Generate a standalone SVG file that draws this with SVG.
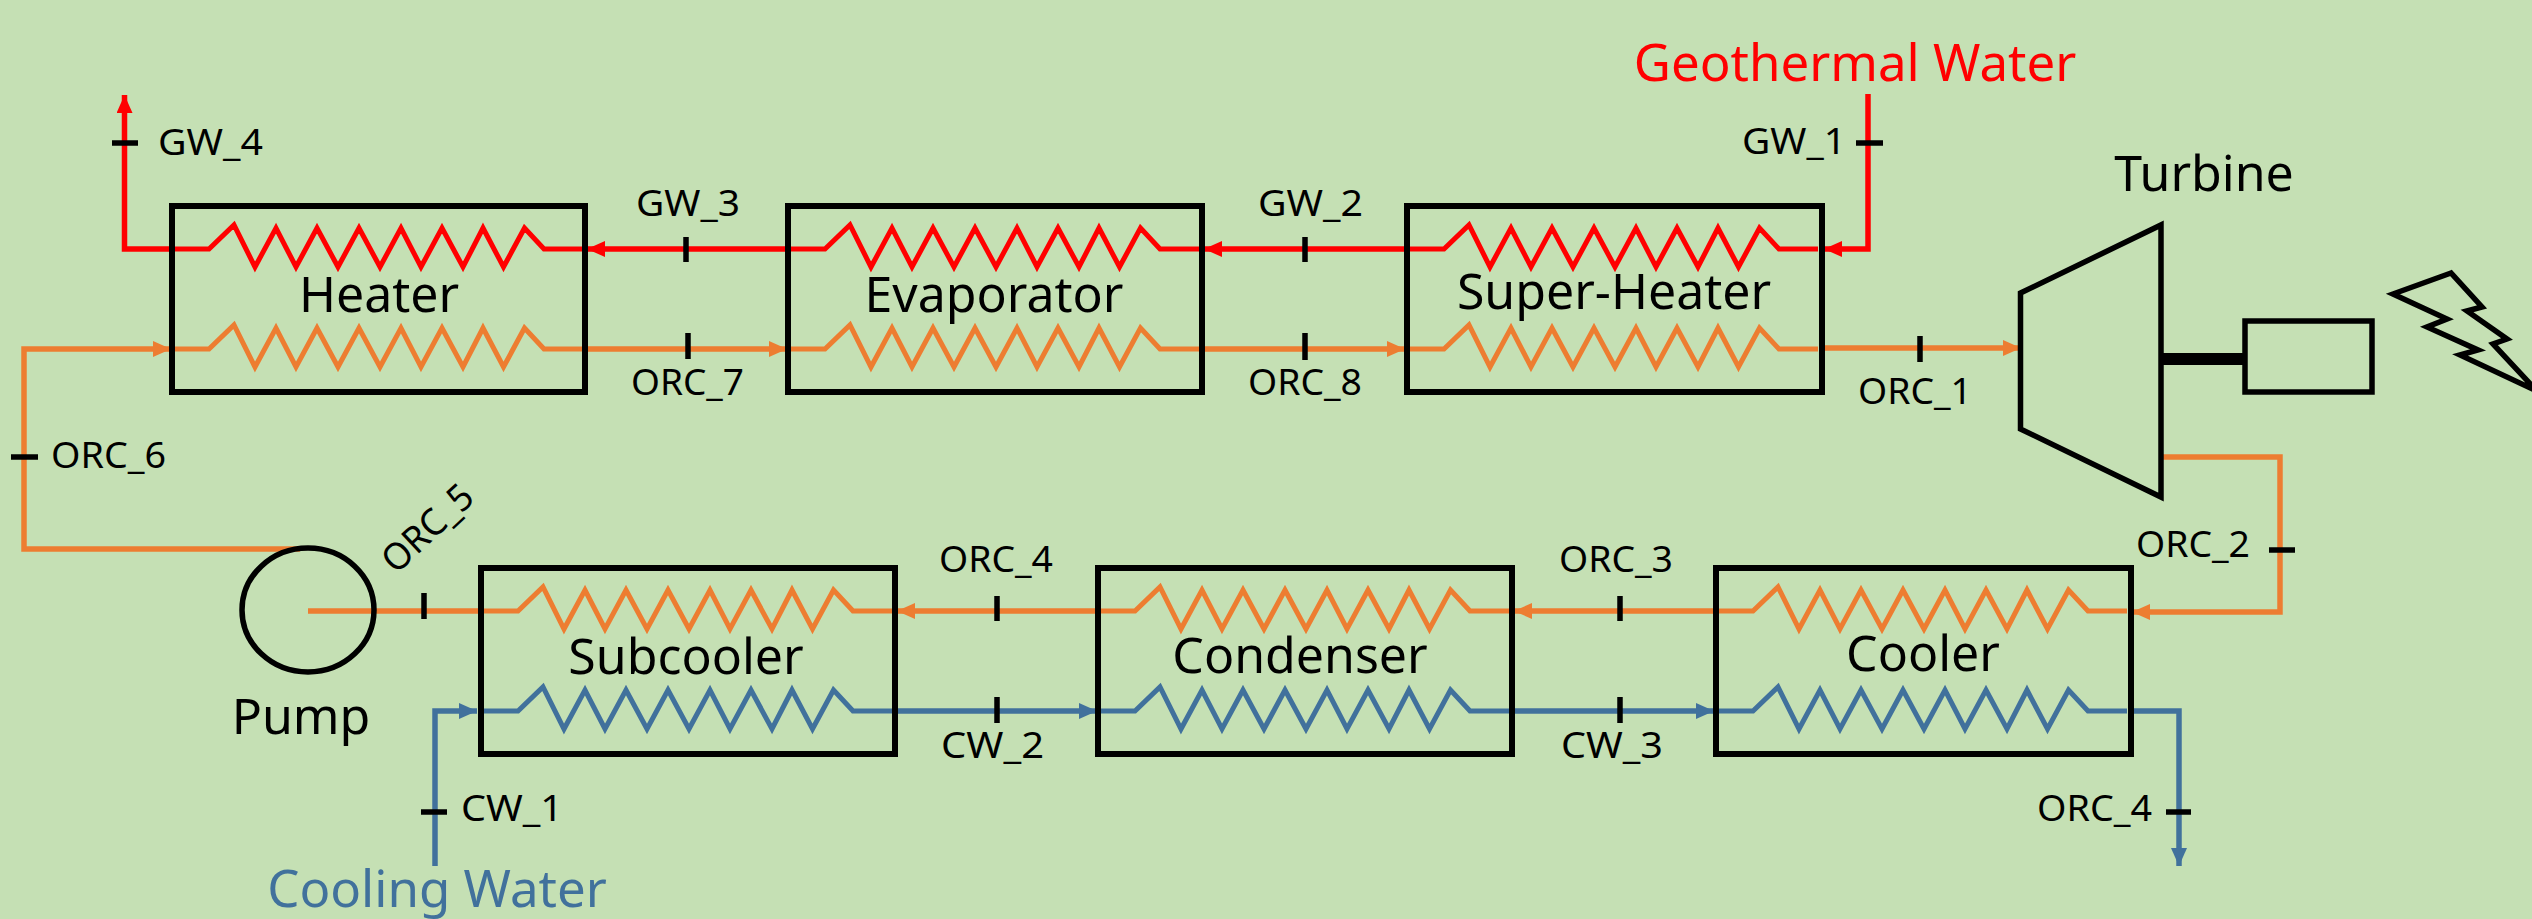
<svg xmlns="http://www.w3.org/2000/svg" width="2532" height="919" viewBox="0 0 2532 919">
<style>
text{font-family:"Noto Sans","Open Sans","Liberation Sans",sans-serif;fill:#000}
.big{font-size:50px}
.title{font-size:51px}
.sm{font-size:37px}
.box{fill:none;stroke:#000;stroke-width:6}
.eq{fill:none;stroke:#000;stroke-width:5.5}
.zig{fill:none;stroke-width:5;stroke-miterlimit:8}
.pipe{fill:none;stroke-width:5.5}
.tick{stroke:#000;stroke-width:5.5;fill:none}
.red{stroke:#f00;color:#f00}
.org{stroke:#ED7D31;color:#ED7D31}
.blu{stroke:#41719C;color:#41719C}
</style>
<defs>
<path id="coil" d="M2,0 H37 L62,-24 L83,18 L104,-21 L124,18 L145,-21 L166,18 L187,-21 L208,18 L229,-21 L249,18 L270,-21 L291,18 L311,-21 L331.5,18 L352.5,-21 L372,0 H411"/>
<marker id="ar" markerUnits="userSpaceOnUse" viewBox="0 0 18 16" refX="18" refY="8" markerWidth="18" markerHeight="16" orient="auto"><path d="M0,0 L18,8 L0,16 Z" fill="context-stroke"/></marker>
</defs>
<rect width="2532" height="919" fill="#C5E0B4"/>
<g id="connectors">
<path class="pipe red" d="M1868,94 V249 H1824" marker-end="url(#ar)"/>
<path class="pipe red" d="M1407,249 H1204" marker-end="url(#ar)"/>
<path class="pipe red" d="M788,249 H587" marker-end="url(#ar)"/>
<path class="pipe red" d="M172,249 H124.500 V95" marker-end="url(#ar)"/>
<path class="pipe org" d="M300,549 H24 V349 H171" marker-end="url(#ar)"/>
<path class="pipe org" d="M585,349 H787" marker-end="url(#ar)"/>
<path class="pipe org" d="M1202,349 H1405" marker-end="url(#ar)"/>
<path class="pipe org" d="M1822,348 H2021" marker-end="url(#ar)"/>
<path class="pipe org" d="M2161,457 H2280 V612 H2132" marker-end="url(#ar)"/>
<path class="pipe org" d="M1716,611 H1514" marker-end="url(#ar)"/>
<path class="pipe org" d="M1098,611 H897" marker-end="url(#ar)"/>
<path class="pipe org" d="M481,611 H308"/>
<path class="pipe blu" d="M435,866 V711 H477" marker-end="url(#ar)"/>
<path class="pipe blu" d="M895,711 H1097" marker-end="url(#ar)"/>
<path class="pipe blu" d="M1512,711 H1714" marker-end="url(#ar)"/>
<path class="pipe blu" d="M2131,711 H2179 V866" marker-end="url(#ar)"/>
<path class="tick" d="M112,143 H138 M1856,143 H1883 M11,457 H38 M2269,550 H2295 M2166,812 H2191 M421,812 H447"/>
<path class="tick" d="M686,237 V262 M688,333 V359 M1305,237 V262 M1305,333 V360 M1920,336 V362 M424,593 V619 M997,596 V621 M997,697 V723 M1620,596 V621 M1620,697 V723"/>
</g>
<g id="heater"><use href="#coil" class="zig red" x="172" y="249"/><use href="#coil" class="zig org" x="172" y="349"/><rect class="box" x="172" y="206" width="413" height="186"/><text class="big" x="379" y="312" text-anchor="middle">Heater</text></g>
<g id="evaporator"><use href="#coil" class="zig red" x="788" y="249"/><use href="#coil" class="zig org" x="788" y="349"/><rect class="box" x="788" y="206" width="414" height="186"/><text class="big" x="994" y="312" text-anchor="middle">Evaporator</text></g>
<g id="super-heater"><use href="#coil" class="zig red" x="1407" y="249"/><use href="#coil" class="zig org" x="1407" y="349"/><rect class="box" x="1407" y="206" width="415" height="186"/><text class="big" x="1614" y="309" text-anchor="middle">Super-Heater</text></g>
<g id="subcooler"><use href="#coil" class="zig org" x="481" y="611"/><use href="#coil" class="zig blu" x="481" y="711"/><rect class="box" x="481" y="568" width="414" height="186"/><text class="big" x="686" y="674" text-anchor="middle">Subcooler</text></g>
<g id="condenser"><use href="#coil" class="zig org" x="1098" y="611"/><use href="#coil" class="zig blu" x="1098" y="711"/><rect class="box" x="1098" y="568" width="414" height="186"/><text class="big" x="1300" y="673" text-anchor="middle">Condenser</text></g>
<g id="cooler"><use href="#coil" class="zig org" x="1716" y="611"/><use href="#coil" class="zig blu" x="1716" y="711"/><rect class="box" x="1716" y="568" width="415" height="186"/><text class="big" x="1923" y="671" text-anchor="middle">Cooler</text></g>
<g id="turbine"><path class="eq" d="M2020.500,293 L2161,225 V497 L2020.500,429 Z"/><text class="big" x="2204" y="191" text-anchor="middle">Turbine</text></g>
<g id="generator"><path d="M2161,359 H2247" stroke="#000" stroke-width="12" fill="none"/><rect class="eq" x="2245" y="321" width="127" height="71"/></g>
<g id="lightning"><path class="eq" d="M2451,273 L2393,294 L2447,319 L2427,327 L2478,350 L2460,355 L2537,391 L2493,344 L2507,339 L2467,311 L2482,307 Z"/></g>
<g id="pump"><ellipse class="eq" cx="308" cy="610" rx="66" ry="62"/><text class="big" x="301" y="734" text-anchor="middle">Pump</text></g>
<g id="labels">
<text class="title" x="1855" y="81" text-anchor="middle" style="fill:#f00">Geothermal Water</text>
<text class="title" x="437" y="907" text-anchor="middle" style="fill:#41719C">Cooling Water</text>
<text class="sm" x="158" y="155" textLength="105" lengthAdjust="spacingAndGlyphs">GW_4</text>
<text class="sm" x="636" y="216" textLength="104" lengthAdjust="spacingAndGlyphs">GW_3</text>
<text class="sm" x="1258" y="216" textLength="105" lengthAdjust="spacingAndGlyphs">GW_2</text>
<text class="sm" x="1742" y="154" textLength="104" lengthAdjust="spacingAndGlyphs">GW_1</text>
<text class="sm" x="631" y="395" textLength="113" lengthAdjust="spacingAndGlyphs">ORC_7</text>
<text class="sm" x="1248" y="395" textLength="114" lengthAdjust="spacingAndGlyphs">ORC_8</text>
<text class="sm" x="1858" y="404" textLength="114" lengthAdjust="spacingAndGlyphs">ORC_1</text>
<text class="sm" x="51" y="468" textLength="115" lengthAdjust="spacingAndGlyphs">ORC_6</text>
<text class="sm" transform="translate(396,575) rotate(-43)" textLength="110" lengthAdjust="spacingAndGlyphs">ORC_5</text>
<text class="sm" x="939" y="572" textLength="114" lengthAdjust="spacingAndGlyphs">ORC_4</text>
<text class="sm" x="1559" y="572" textLength="114" lengthAdjust="spacingAndGlyphs">ORC_3</text>
<text class="sm" x="2136" y="557" textLength="114" lengthAdjust="spacingAndGlyphs">ORC_2</text>
<text class="sm" x="2037" y="821" textLength="115" lengthAdjust="spacingAndGlyphs">ORC_4</text>
<text class="sm" x="461" y="821" textLength="102" lengthAdjust="spacingAndGlyphs">CW_1</text>
<text class="sm" x="941" y="758" textLength="103" lengthAdjust="spacingAndGlyphs">CW_2</text>
<text class="sm" x="1561" y="758" textLength="102" lengthAdjust="spacingAndGlyphs">CW_3</text>
</g>
</svg>
